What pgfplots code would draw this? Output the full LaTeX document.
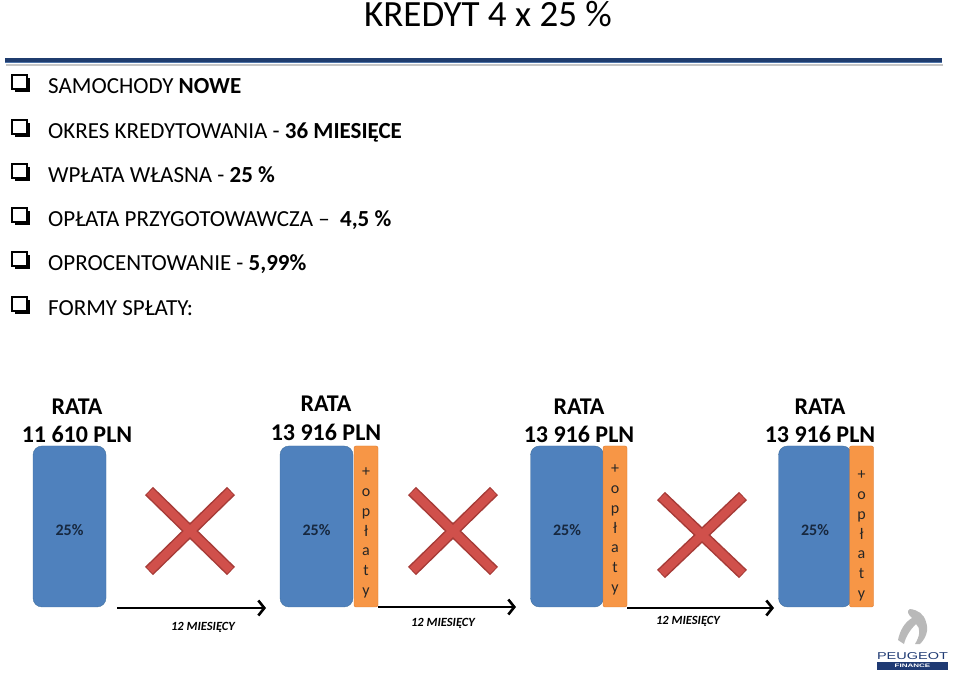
\documentclass[border=0pt]{standalone}
\usepackage{pgfplots}
\pgfplotsset{compat=1.18}
\usepackage{graphicx}
\usepackage{fontspec}
\setmainfont{Carlito}
\newfontfamily\logofont{Liberation Sans}
\usetikzlibrary{arrows.meta}
\definecolor{barblue}{HTML}{4F81BD}
\definecolor{barblueedge}{HTML}{41709F}
\definecolor{barorange}{HTML}{F79646}
\definecolor{orangeedge}{HTML}{D9782E}
\definecolor{xred}{HTML}{D0504B}
\definecolor{xreddark}{HTML}{A63B37}
\definecolor{navy}{HTML}{1F3C6E}
\definecolor{navylight}{HTML}{4E74A8}
\definecolor{pctblue}{HTML}{17283F}
\definecolor{peugeot}{HTML}{1F3A73}
\newcommand{\chk}[4]{\fill[black] (15,#3) rectangle (30,#4);
  \filldraw[fill=white,draw=black,line width=1.4pt] (12,#1) rectangle (27,#2);}
\begin{document}
\begin{tikzpicture}[x=1pt,y=1pt]
\path[use as bounding box] (0,0) rectangle (959,675);
\begin{axis}[name=main, at={(0,0)}, anchor=south west, width=959pt, height=675pt,
  scale only axis, xmin=0, xmax=959, ymin=0, ymax=675, y dir=reverse, hide axis, clip=false]
% title
\node[anchor=base, font=\fontsize{37}{40}\selectfont] at (488,26) {KREDYT 4 x 25 \%};
% rule under title
\draw[gray!45, line width=2pt] (6,64.5) -- (943,64.5);
\draw[navy, line width=4.5pt] (5,60.5) -- (942,60.5);
\draw[navylight, line width=1pt] (5,62.3) -- (942,62.3);
% checkboxes
\chk{75}{89}{78}{92}
\chk{120}{134}{123}{137}
\chk{164}{178}{167}{181}
\chk{208}{222}{211}{225}
\chk{252}{266}{255}{269}
\chk{297}{311}{300}{314}
% bullet texts
\begin{scope}[every node/.style={anchor=base west, inner sep=0pt, font=\fontsize{23}{26}\selectfont}]
\node at (48,93.5) {SAMOCHODY \textbf{NOWE}};
\node at (48,138.5) {OKRES KREDYTOWANIA - \textbf{36 MIESIĘCE}};
\node at (48,182.5) {WPŁATA WŁASNA - \textbf{25 \%}};
\node at (48,226.5) {OPŁATA PRZYGOTOWAWCZA --\ \ \textbf{4,5 \%}};
\node at (48,270.5) {OPROCENTOWANIE - \textbf{5,99\%}};
\node at (48,315.5) {FORMY SPŁATY:};
\end{scope}
% RATA labels
\begin{scope}[every node/.style={anchor=base, inner sep=0pt, font=\bfseries\fontsize{24}{26}\selectfont}]
\node at (77,414) {RATA};
\node at (77,442) {11 610 PLN};
\node at (326,411) {RATA};
\node at (326,440) {13 916 PLN};
\node at (579,414) {RATA};
\node at (579,442) {13 916 PLN};
\node at (820,414) {RATA};
\node at (820,442) {13 916 PLN};
\end{scope}
% red crosses
\addplot[xreddark, line width=11.5pt, line cap=butt] coordinates {(149,491) (231,571)};
\addplot[xreddark, line width=11.5pt, line cap=butt] coordinates {(149,571) (231,491)};
\addplot[xreddark, line width=11.5pt, line cap=butt] coordinates {(412,491) (494,571)};
\addplot[xreddark, line width=11.5pt, line cap=butt] coordinates {(412,571) (494,491)};
\addplot[xreddark, line width=11.5pt, line cap=butt] coordinates {(661,496) (743,574)};
\addplot[xreddark, line width=11.5pt, line cap=butt] coordinates {(661,574) (743,496)};
\addplot[xred, line width=8.5pt, line cap=butt, shorten <=1pt, shorten >=1pt] coordinates {(149,491) (231,571)};
\addplot[xred, line width=8.5pt, line cap=butt, shorten <=1pt, shorten >=1pt] coordinates {(149,571) (231,491)};
\addplot[xred, line width=8.5pt, line cap=butt, shorten <=1pt, shorten >=1pt] coordinates {(412,491) (494,571)};
\addplot[xred, line width=8.5pt, line cap=butt, shorten <=1pt, shorten >=1pt] coordinates {(412,571) (494,491)};
\addplot[xred, line width=8.5pt, line cap=butt, shorten <=1pt, shorten >=1pt] coordinates {(661,496) (743,574)};
\addplot[xred, line width=8.5pt, line cap=butt, shorten <=1pt, shorten >=1pt] coordinates {(661,574) (743,496)};
% arrows
\addplot[black, line width=2.6pt, -{Straight Barb[length=6pt,width=15pt]}] coordinates {(117,608) (266,608)};
\addplot[black, line width=2.6pt, -{Straight Barb[length=6pt,width=15pt]}] coordinates {(378,607) (516,607)};
\addplot[black, line width=2.6pt, -{Straight Barb[length=6pt,width=15pt]}] coordinates {(627,608) (774,608)};
\begin{scope}[every node/.style={anchor=center, inner sep=0pt, font=\bfseries\itshape\fontsize{12.5}{14}\selectfont}]
\node at (203,627) {12 MIESIĘCY};
\node at (443,623) {12 MIESIĘCY};
\node at (688,621) {12 MIESIĘCY};
\end{scope}
% logo
\fill[gray!55] (898,640) .. controls (900,630) and (905,622) .. (912,618)
  .. controls (908,614) and (906,611) .. (910,609) .. controls (918,610) and (924,614) .. (926,622)
  .. controls (929,630) and (926,638) .. (920,644) -- (915,644)
  .. controls (920,636) and (921,628) .. (916,624) .. controls (910,630) and (906,636) .. (904,644) -- cycle;
\node[anchor=center, inner sep=0pt, text=peugeot] at (912.5,656.5)
  {\scalebox{1.45}[1]{\logofont\fontsize{10}{10}\selectfont PEUGEOT}};
\fill[peugeot] (877,662) rectangle (948,670);
\node[anchor=center, inner sep=0pt, text=white] at (912.5,666)
  {\scalebox{1.6}[1]{\logofont\bfseries\fontsize{5}{5}\selectfont FINANCE}};
\end{axis}
\begin{axis}[at={(0,68pt)}, anchor=south west, width=959pt, height=161pt, scale only axis,
  xmin=0, xmax=959, ymin=0, ymax=25, hide axis, clip=false,
  /pgf/number format/assume math mode=true]
\addplot[ybar, bar width=73, bar shift=0pt, fill=barblue, draw=barblueedge, rounded corners=9pt,
  nodes near coords={\pgfmathprintnumber{\pgfplotspointmeta}\%},
  every node near coord/.append style={anchor=center, yshift=-84pt, text=pctblue,
    font=\bfseries\fontsize{16}{18}\selectfont}]
  coordinates {(69.5,25) (316.5,25) (567,25) (815,25)};
\addplot[ybar, bar width=24, bar shift=0pt, fill=barorange, draw=orangeedge, rounded corners=2pt]
  coordinates {(366,25) (615,25) (861.5,25)};
\end{axis}
\begin{axis}[at={(0,0)}, anchor=south west, width=959pt, height=675pt,
  scale only axis, xmin=0, xmax=959, ymin=0, ymax=675, y dir=reverse, hide axis, clip=false]
\begin{scope}[every node/.style={anchor=center, align=center, inner sep=0pt, text=black!85,
   font=\fontsize{16}{19.8}\selectfont}]
\node at (366,533) {+\\o\\p\\ł\\a\\t\\y};
\node at (615,530) {+\\o\\p\\ł\\a\\t\\y};
\node at (861.5,536) {+\\o\\p\\ł\\a\\t\\y};
\end{scope}
\end{axis}
\end{tikzpicture}
\end{document}
